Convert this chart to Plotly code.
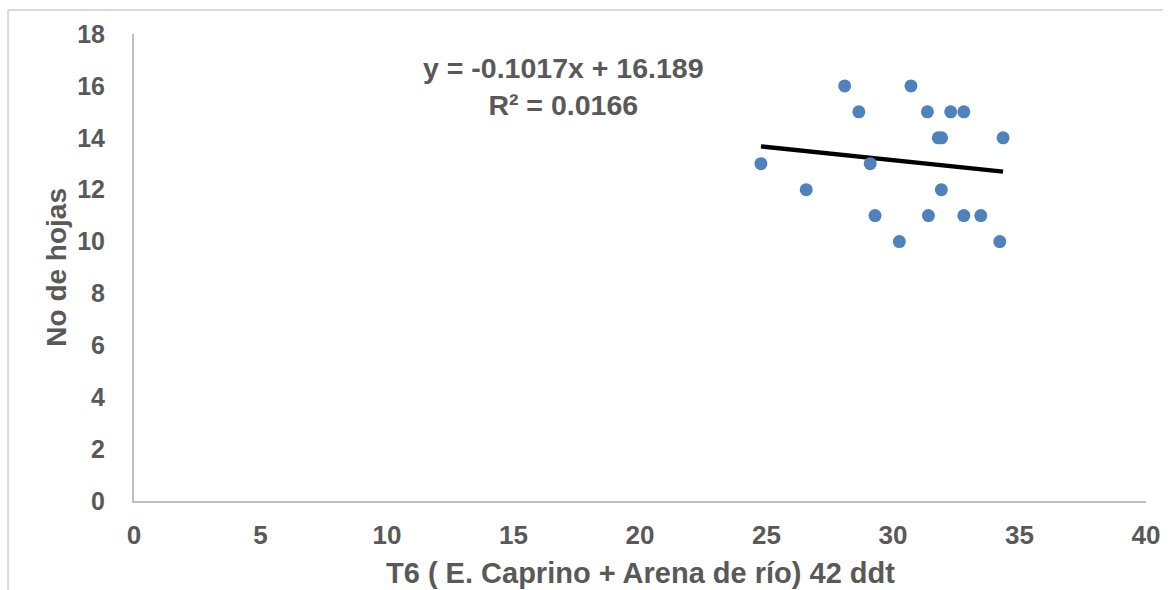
import plotly.graph_objects as go

# Data
x_vals = [28.09, 30.71, 28.65, 31.36, 32.28, 32.80, 31.79, 31.92, 34.35, 24.78,
          29.10, 26.57, 31.91, 29.29, 31.40, 32.80, 33.47, 30.25, 34.22]
y_vals = [16, 16, 15, 15, 15, 15, 14, 14, 14, 13,
          13, 12, 12, 11, 11, 11, 11, 10, 10]

slope = -0.1017
intercept = 16.189
r2 = 0.0166

x_title = "T6 ( E. Caprino + Arena de río) 42 ddt"
y_title = "No de hojas"
x_ticks = [0, 5, 10, 15, 20, 25, 30, 35, 40]
y_ticks = [0, 2, 4, 6, 8, 10, 12, 14, 16, 18]

FONT = "Liberation Sans, Arial, sans-serif"
TXT = "#595959"

trend_x = [min(x_vals), max(x_vals)]
trend_y = [slope * v + intercept for v in trend_x]

fig = go.Figure()
fig.add_trace(go.Scatter(
    x=trend_x, y=trend_y, mode="lines",
    line=dict(color="black", width=4.5), hoverinfo="skip", showlegend=False))
fig.add_trace(go.Scatter(
    x=x_vals, y=y_vals, mode="markers",
    marker=dict(color="#4F81BD", size=13, line=dict(width=0)), showlegend=False))

L, R, T, B = 134, 17, 34, 89
W, H = 1172, 590
pw, ph = W - L - R, H - T - B

def px(xp):
    return (xp - L) / pw

def py(yp):
    return (H - B - yp) / ph

fig.update_layout(
    width=W, height=H,
    margin=dict(l=L, r=R, t=T, b=B),
    paper_bgcolor="white", plot_bgcolor="white",
    font=dict(family=FONT, color=TXT),
    xaxis=dict(range=[0, 40], tickvals=x_ticks, showgrid=False, zeroline=False,
               showline=True, linecolor="#BFBFBF", linewidth=2,
               tickfont=dict(size=26, family=FONT, color=TXT, weight="bold"),
               ticks="", ticklabelstandoff=10),
    yaxis=dict(range=[0, 18], tickvals=y_ticks, showgrid=False, zeroline=False,
               showline=True, linecolor="#BFBFBF", linewidth=2,
               tickfont=dict(size=25, family=FONT, color=TXT, weight="bold"),
               ticks="", ticklabelstandoff=22),
    annotations=[
        dict(text="<b>" + x_title + "</b>", x=px(645), y=py(573), xref="paper", yref="paper",
             showarrow=False, font=dict(size=29, color=TXT, family=FONT),
             xanchor="center", yanchor="middle"),
        dict(text="<b>" + y_title + "</b>", x=px(55), y=py(267), xref="paper", yref="paper",
             showarrow=False, textangle=-90, font=dict(size=28, color=TXT, family=FONT),
             xanchor="center", yanchor="middle"),
        dict(text="<b>y = %.4fx + %.3f<br>R² = %.4f</b>" % (slope, intercept, r2),
             x=px(567), y=py(87), xref="paper", yref="paper",
             showarrow=False, font=dict(size=28.5, color=TXT, family=FONT),
             xanchor="center", yanchor="middle", align="center"),
    ],
    shapes=[
        dict(type="line", xref="paper", yref="paper", x0=px(7), x1=px(1172),
             y0=py(10), y1=py(10), line=dict(color="#D9D9D9", width=2)),
        dict(type="line", xref="paper", yref="paper", x0=px(7), x1=px(7),
             y0=py(10), y1=py(590), line=dict(color="#D9D9D9", width=2)),
    ],
)

fig.write_html("out.html", config={"displayModeBar": False},
               post_script="document.body.style.margin='0';document.body.style.overflow='hidden';")
